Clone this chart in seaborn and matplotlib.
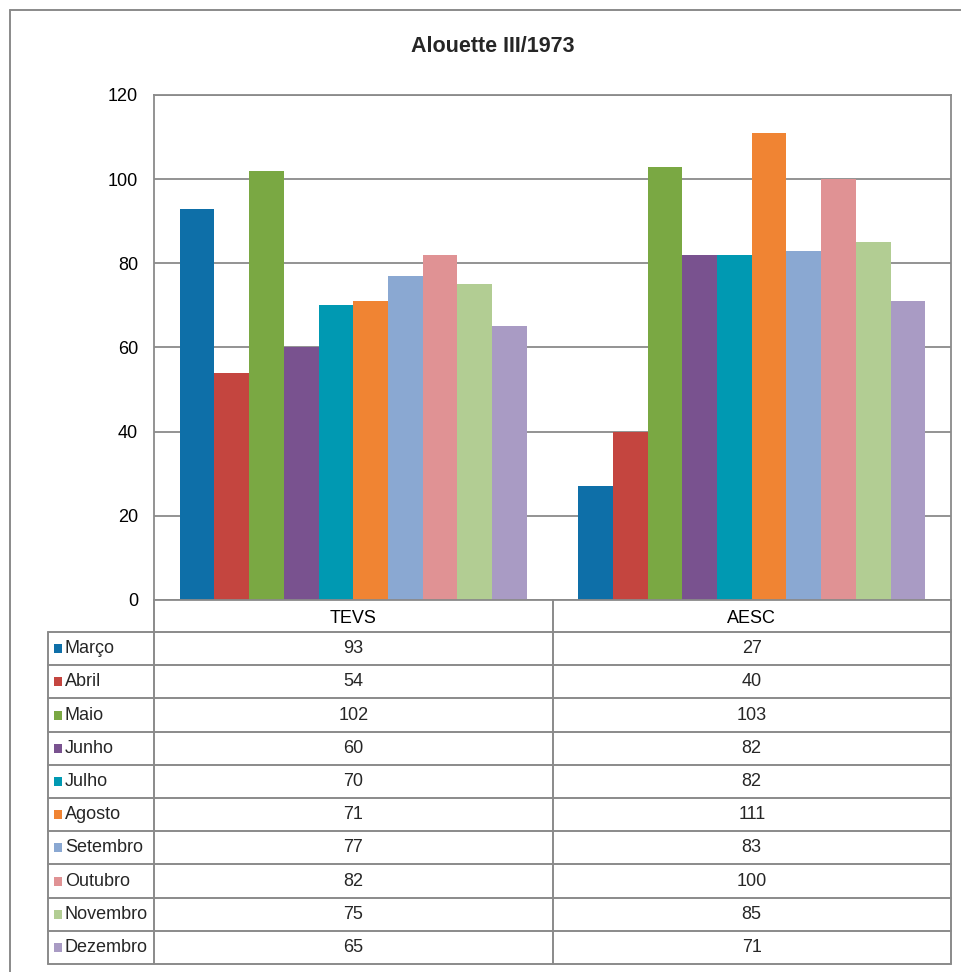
import matplotlib
matplotlib.use("Agg")
import matplotlib.pyplot as plt
import pandas as pd
import seaborn as sns
from matplotlib import font_manager

# data
grupos = ["TEVS", "AESC"]
meses = ["Março", "Abril", "Maio", "Junho", "Julho", "Agosto",
         "Setembro", "Outubro", "Novembro", "Dezembro"]
tevs = [93, 54, 102, 60, 70, 71, 77, 82, 75, 65]
aesc = [27, 40, 103, 82, 82, 111, 83, 100, 85, 71]
cores = ["#0E6FA8", "#C4453F", "#7AA843", "#79528F", "#0099B2", "#F08433",
         "#8AA8D2", "#E09294", "#B2CD93", "#A99BC4"]
titulo = "Alouette III/1973"
yticks = [0, 20, 40, 60, 80, 100, 120]

df = pd.DataFrame({
    "grupo": [g for g in grupos for _ in meses],
    "mes": meses * len(grupos),
    "valor": tevs + aesc,
})

sns.set_theme(style="white")
installed = {f.name for f in font_manager.fontManager.ttflist}
fam = "Liberation Sans Narrow" if "Liberation Sans Narrow" in installed else "Liberation Sans"
plt.rcParams["font.family"] = [fam, "DejaVu Sans"]
fs = 14 if fam.endswith("Narrow") else 13

W, H = 961, 972
fig = plt.figure(figsize=(W / 100, H / 100), dpi=100)
line_c = "#8A8A8A"

# plot area in pixel terms
L, R, T, B = 154, 951, 95, 600
ax = fig.add_axes([L / W, 1 - B / H, (R - L) / W, (B - T) / H])
sns.barplot(data=df, x="grupo", y="valor", hue="mes", palette=cores,
            width=0.872, gap=0, saturation=1, linewidth=0, legend=False, ax=ax)
ax.set_ylim(0, 120)
ax.set_xlim(-0.5, 1.5)
ax.set_yticks(yticks)
ax.set_yticklabels([str(v) for v in yticks], fontsize=fs, color="black")
ax.tick_params(axis="y", length=0, pad=11.5)
ax.tick_params(axis="x", length=0, pad=7, labelsize=fs, colors="black")
ax.set_xlabel("")
ax.set_ylabel("")
ax.yaxis.grid(True, color=line_c, linewidth=1.3)
ax.set_axisbelow(True)
for s in ax.spines.values():
    s.set_visible(True)
    s.set_color(line_c)
    s.set_linewidth(1.3)

# overlay in pixel coordinates for the frame and data table
ov = fig.add_axes([0, 0, 1, 1], zorder=5)
ov.set_xlim(0, W)
ov.set_ylim(H, 0)
ov.axis("off")
ov.patch.set_alpha(0)

ov.plot([10, 10], [10, H], color=line_c, lw=1.4)
ov.plot([10, W], [10, 10], color=line_c, lw=1.4)
ov.text(493, 47, titulo, ha="center", va="center",
        fontsize=15.5, fontweight="bold")

row_h = 33.2
top = 632
bottom = top + row_h * len(meses)
tx0, mid = 48, (L + R) / 2
for x in [L, mid, R]:
    ov.plot([x, x], [B, bottom], color=line_c, lw=1.4)
ov.plot([tx0, tx0], [top, bottom], color=line_c, lw=1.4)
for i in range(len(meses) + 1):
    y = top + i * row_h
    ov.plot([tx0, R], [y, y], color=line_c, lw=1.4)

for i, mes in enumerate(meses):
    yc = top + (i + 0.5) * row_h
    ov.add_patch(plt.Rectangle((54, yc - 4.5), 8, 9, color=cores[i], lw=0))
    ov.text(65, yc, mes, ha="left", va="center", fontsize=fs)
    ov.text((L + mid) / 2, yc, str(tevs[i]), ha="center", va="center", fontsize=fs)
    ov.text((mid + R) / 2, yc, str(aesc[i]), ha="center", va="center", fontsize=fs)

fig.savefig("out.png", dpi=100, facecolor="white")
